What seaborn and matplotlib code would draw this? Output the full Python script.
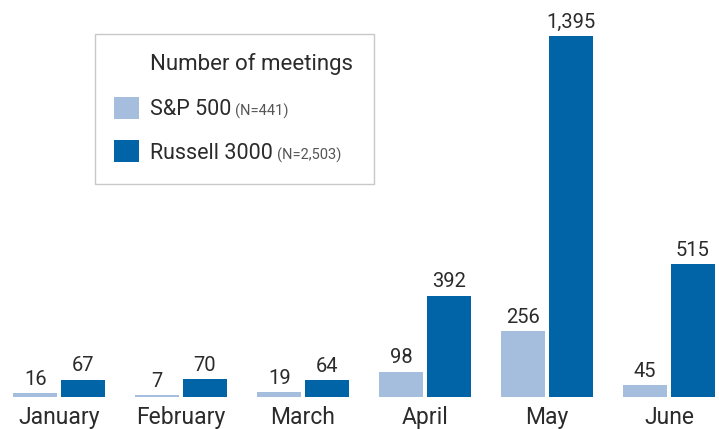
import pandas as pd
import matplotlib.pyplot as plt
import seaborn as sns

months = ["January", "February", "March", "April", "May", "June"]
sp500 = [16, 7, 19, 98, 256, 45]
russell = [67, 70, 64, 392, 1395, 515]
series = ["S&P 500", "Russell 3000"]
series_n = ["(N=441)", "(N=2,503)"]
colors = ["#a5bedd", "#0064a6"]

df = pd.DataFrame({
    "month": months * 2,
    "meetings": sp500 + russell,
    "index": [series[0]] * len(months) + [series[1]] * len(months),
})

sns.set_theme(style="white")
plt.rcParams["font.family"] = ["Roboto", "DejaVu Sans"]
text_color = "#2b2b2b"

W, H = 719, 429
fig = plt.figure(figsize=(W / 100, H / 100), dpi=100)
ax = fig.add_axes([0, 32 / H, 1, 397 / H])
ax.patch.set_visible(False)

sns.barplot(data=df, x="month", y="meetings", hue="index", order=months,
            hue_order=series, palette=colors, width=0.78, gap=0.08,
            linewidth=0, saturation=1, ax=ax)

for cont in ax.containers:
    ax.bar_label(cont, fmt="{:,.0f}", padding=3, fontsize=14.5, color=text_color)

ax.set_xlim(-59 / 122, (W - 59) / 122)
ax.set_ylim(0, 397 / (361 / 1395))
sns.despine(ax=ax, left=True, bottom=True)
ax.set_yticks([])
ax.set_xlabel("")
ax.set_ylabel("")
ax.tick_params(axis="x", length=0, pad=6.5, labelsize=16.5, labelcolor=text_color)

# legend
leg = ax.legend(loc="upper left", bbox_to_anchor=(114 / W, 1 - 97 / H),
                bbox_transform=fig.transFigure, frameon=False, borderpad=0,
                borderaxespad=0, fontsize=15.5, handlelength=1.16, handleheight=1.16,
                handletextpad=0.5, labelspacing=0.95, labelcolor=text_color)
for txt, n in zip(leg.get_texts(), series_n):
    ax.annotate(n, xy=(1, 0), xycoords=txt, xytext=(3, 0.5), textcoords="offset points",
                fontsize=10.5, color="#555555", va="bottom", ha="left", zorder=10)
fig.text(150 / W, 1 - 64 / H, "Number of meetings", fontsize=16, color=text_color,
         va="center", ha="left")
frame = plt.Rectangle((95 / W, 1 - 184 / H), 279 / W, 150 / H, transform=fig.transFigure,
                      facecolor="white", edgecolor="#c8c8c8", linewidth=1, zorder=-1)
fig.patches.append(frame)

fig.savefig("out.png", dpi=100)
